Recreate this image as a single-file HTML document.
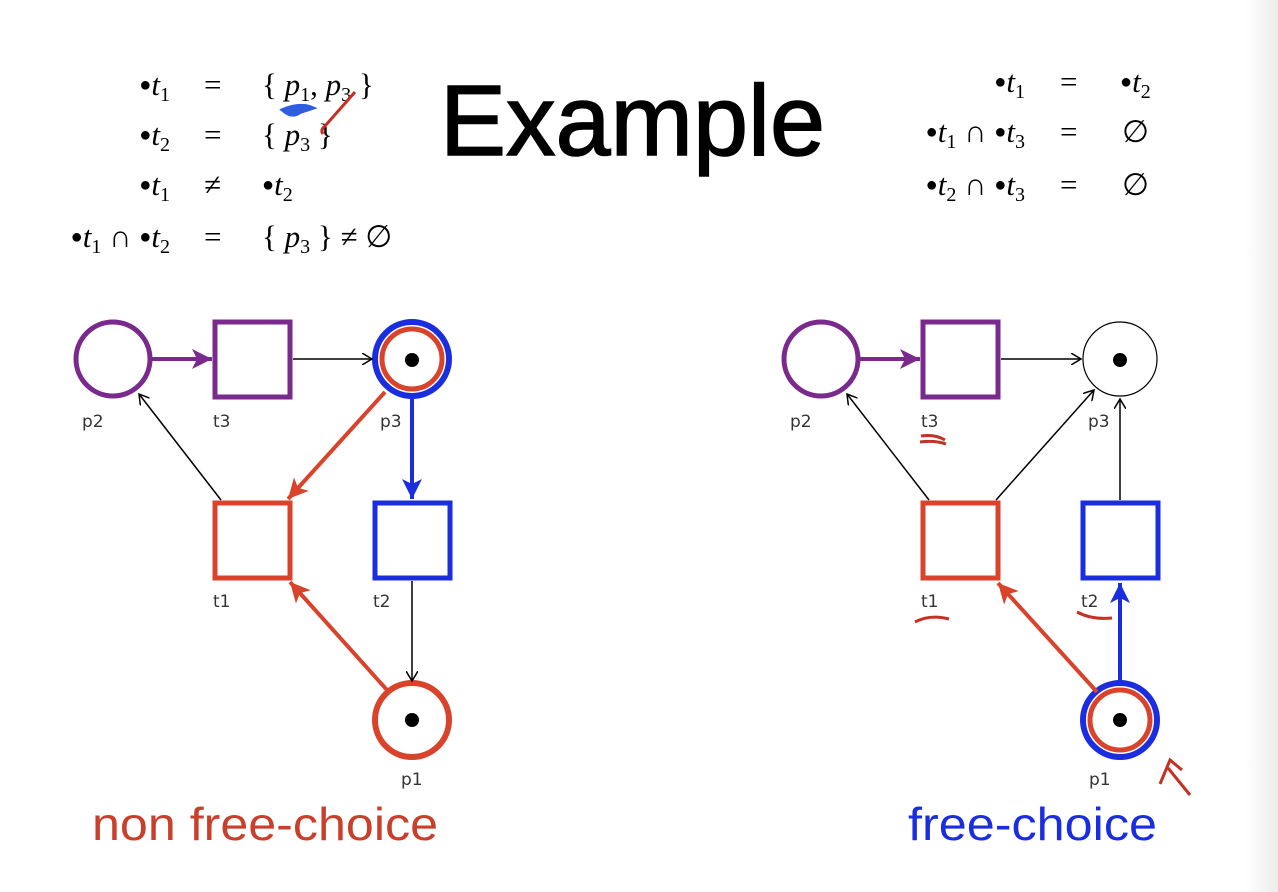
<!DOCTYPE html>
<html><head><style>
html,body{margin:0;padding:0;background:#fff;}
svg{display:block;}
.m{font-family:"Liberation Serif",serif;font-size:31px;}
.i{font-style:italic;}
.s{font-size:20px;}
.b{font-size:20px;}
.lb{font-family:"DejaVu Sans",sans-serif;font-size:17px;fill:#333;}
</style></head><body>
<svg width="1278" height="892" viewBox="0 0 1278 892" xmlns="http://www.w3.org/2000/svg">
<defs>
<linearGradient id="g" x1="0" x2="1"><stop offset="0" stop-color="#fff"/><stop offset="1" stop-color="#ececec"/></linearGradient>
<marker id="ak" markerWidth="12" markerHeight="12" refX="10" refY="6" orient="auto" markerUnits="userSpaceOnUse"><path d="M0,0 L10,6 L0,12" fill="none" stroke="#000" stroke-width="1.5"/></marker>
<marker id="ap" markerWidth="22" markerHeight="20" refX="20" refY="10" orient="auto" markerUnits="userSpaceOnUse"><path d="M0,0 L20,10 L0,20 L5,10z" fill="#7a2a8c"/></marker>
<marker id="ar" markerWidth="22" markerHeight="20" refX="20" refY="10" orient="auto" markerUnits="userSpaceOnUse"><path d="M0,0 L20,10 L0,20 L5,10z" fill="#d9432b"/></marker>
<marker id="ab" markerWidth="22" markerHeight="20" refX="20" refY="10" orient="auto" markerUnits="userSpaceOnUse"><path d="M0,0 L20,10 L0,20 L5,10z" fill="#1a2ee0"/></marker>
</defs>
<rect x="1245" y="0" width="33" height="892" fill="url(#g)"/>

<g class="m">
<text x="170" y="95" text-anchor="end"><tspan class="b" dy="-4">●</tspan><tspan class="i" dy="4">t</tspan><tspan class="s" dy="6">1</tspan></text>
<text x="170" y="145" text-anchor="end"><tspan class="b" dy="-4">●</tspan><tspan class="i" dy="4">t</tspan><tspan class="s" dy="6">2</tspan></text>
<text x="170" y="195" text-anchor="end"><tspan class="b" dy="-4">●</tspan><tspan class="i" dy="4">t</tspan><tspan class="s" dy="6">1</tspan></text>
<text x="170" y="247" text-anchor="end"><tspan class="b" dy="-4">●</tspan><tspan class="i" dy="4">t</tspan><tspan class="s" dy="6">1</tspan><tspan dy="-6"> ∩ </tspan><tspan class="b" dy="-4">●</tspan><tspan class="i" dy="4">t</tspan><tspan class="s" dy="6">2</tspan></text>
<text x="204" y="95">=</text><text x="204" y="145">=</text><text x="204" y="195">≠</text><text x="204" y="247">=</text>
<text x="262" y="95">{ <tspan class="i">p</tspan><tspan class="s" dy="6">1</tspan><tspan dy="-6">, </tspan><tspan class="i">p</tspan><tspan class="s" dy="6">3</tspan><tspan dy="-6"> }</tspan></text>
<text x="262" y="145">{ <tspan class="i">p</tspan><tspan class="s" dy="6">3</tspan><tspan dy="-6"> }</tspan></text>
<text x="262" y="195"><tspan class="b" dy="-4">●</tspan><tspan class="i" dy="4">t</tspan><tspan class="s" dy="6">2</tspan></text>
<text x="262" y="247">{ <tspan class="i">p</tspan><tspan class="s" dy="6">3</tspan><tspan dy="-6"> } ≠ ∅</tspan></text>
</g>
<path d="M283,110 Q300,103 312,108 L300,112 Q292,118 283,110z" fill="#2f5de0" stroke="#2f5de0" stroke-width="4"/>
<path d="M355,92 L325,126 Q320,130 323,134" fill="none" stroke="#c53024" stroke-width="3"/>

<text x="440" y="155" font-family="Liberation Sans, sans-serif" font-size="100" stroke="#000" stroke-width="1.5" textLength="385" lengthAdjust="spacingAndGlyphs">Example</text>

<g class="m">
<text x="1025" y="92" text-anchor="end"><tspan class="b" dy="-4">●</tspan><tspan class="i" dy="4">t</tspan><tspan class="s" dy="6">1</tspan></text>
<text x="1025" y="142" text-anchor="end"><tspan class="b" dy="-4">●</tspan><tspan class="i" dy="4">t</tspan><tspan class="s" dy="6">1</tspan><tspan dy="-6"> ∩ </tspan><tspan class="b" dy="-4">●</tspan><tspan class="i" dy="4">t</tspan><tspan class="s" dy="6">3</tspan></text>
<text x="1025" y="195" text-anchor="end"><tspan class="b" dy="-4">●</tspan><tspan class="i" dy="4">t</tspan><tspan class="s" dy="6">2</tspan><tspan dy="-6"> ∩ </tspan><tspan class="b" dy="-4">●</tspan><tspan class="i" dy="4">t</tspan><tspan class="s" dy="6">3</tspan></text>
<text x="1060" y="92">=</text><text x="1060" y="142">=</text><text x="1060" y="195">=</text>
<text x="1120" y="92"><tspan class="b" dy="-4">●</tspan><tspan class="i" dy="4">t</tspan><tspan class="s" dy="6">2</tspan></text>
<text x="1122" y="142">∅</text><text x="1122" y="195">∅</text>
</g>

<circle cx="113" cy="359" r="37" fill="none" stroke="#7a2a8c" stroke-width="5"/>
<rect x="215" y="322" width="75" height="75" fill="none" stroke="#7a2a8c" stroke-width="5"/>
<circle cx="412" cy="359" r="37" fill="none" stroke="#1a2ee0" stroke-width="6"/>
<circle cx="412" cy="359" r="30" fill="none" stroke="#d9432b" stroke-width="5"/>
<circle cx="412" cy="360" r="7" fill="#000"/>
<rect x="215" y="503" width="75" height="75" fill="none" stroke="#d9432b" stroke-width="5"/>
<rect x="375" y="503" width="75" height="75" fill="none" stroke="#1a2ee0" stroke-width="5"/>
<circle cx="412" cy="720" r="37" fill="none" stroke="#d9432b" stroke-width="6"/>
<circle cx="412" cy="720" r="7" fill="#000"/>
<line x1="152" y1="359" x2="212" y2="359" stroke="#7a2a8c" stroke-width="4" marker-end="url(#ap)"/>
<line x1="293" y1="359" x2="372" y2="359" stroke="#000" stroke-width="1.5" marker-end="url(#ak)"/>
<line x1="385" y1="392" x2="288" y2="499" stroke="#d9432b" stroke-width="4" marker-end="url(#ar)"/>
<line x1="412" y1="399" x2="412" y2="499" stroke="#1a2ee0" stroke-width="4" marker-end="url(#ab)"/>
<line x1="221" y1="500" x2="139" y2="394" stroke="#000" stroke-width="1.5" marker-end="url(#ak)"/>
<line x1="412" y1="581" x2="412" y2="681" stroke="#000" stroke-width="1.5" marker-end="url(#ak)"/>
<line x1="387" y1="690" x2="290" y2="582" stroke="#d9432b" stroke-width="4" marker-end="url(#ar)"/>
<text class="lb" x="82" y="427">p2</text><text class="lb" x="213" y="427">t3</text><text class="lb" x="380" y="427">p3</text>
<text class="lb" x="213" y="607">t1</text><text class="lb" x="373" y="607">t2</text><text class="lb" x="401" y="785">p1</text>
<text x="92" y="840" font-family="Liberation Sans, sans-serif" font-size="46" fill="#c8402c" textLength="346" lengthAdjust="spacingAndGlyphs">non free-choice</text>

<circle cx="821" cy="359" r="37" fill="none" stroke="#7a2a8c" stroke-width="5"/>
<rect x="923" y="322" width="75" height="75" fill="none" stroke="#7a2a8c" stroke-width="5"/>
<circle cx="1120" cy="359" r="37" fill="none" stroke="#000" stroke-width="1.2"/>
<circle cx="1120" cy="360" r="7" fill="#000"/>
<rect x="923" y="503" width="75" height="75" fill="none" stroke="#d9432b" stroke-width="5"/>
<rect x="1083" y="503" width="75" height="75" fill="none" stroke="#1a2ee0" stroke-width="5"/>
<circle cx="1120" cy="720" r="37" fill="none" stroke="#1a2ee0" stroke-width="6"/>
<circle cx="1120" cy="720" r="30" fill="none" stroke="#d9432b" stroke-width="5"/>
<circle cx="1120" cy="720" r="7" fill="#000"/>
<line x1="860" y1="359" x2="920" y2="359" stroke="#7a2a8c" stroke-width="4" marker-end="url(#ap)"/>
<line x1="1001" y1="359" x2="1081" y2="359" stroke="#000" stroke-width="1.5" marker-end="url(#ak)"/>
<line x1="929" y1="500" x2="847" y2="394" stroke="#000" stroke-width="1.5" marker-end="url(#ak)"/>
<line x1="996" y1="500" x2="1094" y2="390" stroke="#000" stroke-width="1.5" marker-end="url(#ak)"/>
<line x1="1120" y1="500" x2="1120" y2="399" stroke="#000" stroke-width="1.5" marker-end="url(#ak)"/>
<line x1="1120" y1="681" x2="1120" y2="583" stroke="#1a2ee0" stroke-width="4" marker-end="url(#ab)"/>
<line x1="1097" y1="692" x2="998" y2="583" stroke="#d9432b" stroke-width="4" marker-end="url(#ar)"/>
<text class="lb" x="790" y="427">p2</text><text class="lb" x="921" y="427">t3</text><text class="lb" x="1088" y="427">p3</text>
<text class="lb" x="921" y="607">t1</text><text class="lb" x="1081" y="607">t2</text><text class="lb" x="1089" y="785">p1</text>
<path d="M921,436 Q935,434 945,440 M920,442 Q935,440 946,444" fill="none" stroke="#c53024" stroke-width="3"/>
<path d="M915,622 Q930,614 949,619" fill="none" stroke="#c53024" stroke-width="3"/>
<path d="M1077,612 Q1092,620 1112,618" fill="none" stroke="#c53024" stroke-width="3"/>
<path d="M1160,784 L1170,760 L1182,770 M1168,768 L1190,795" fill="none" stroke="#c53024" stroke-width="3"/>
<text x="908" y="840" font-family="Liberation Sans, sans-serif" font-size="46" fill="#1a2ee0" textLength="249" lengthAdjust="spacingAndGlyphs">free-choice</text>
</svg>
</body></html>
